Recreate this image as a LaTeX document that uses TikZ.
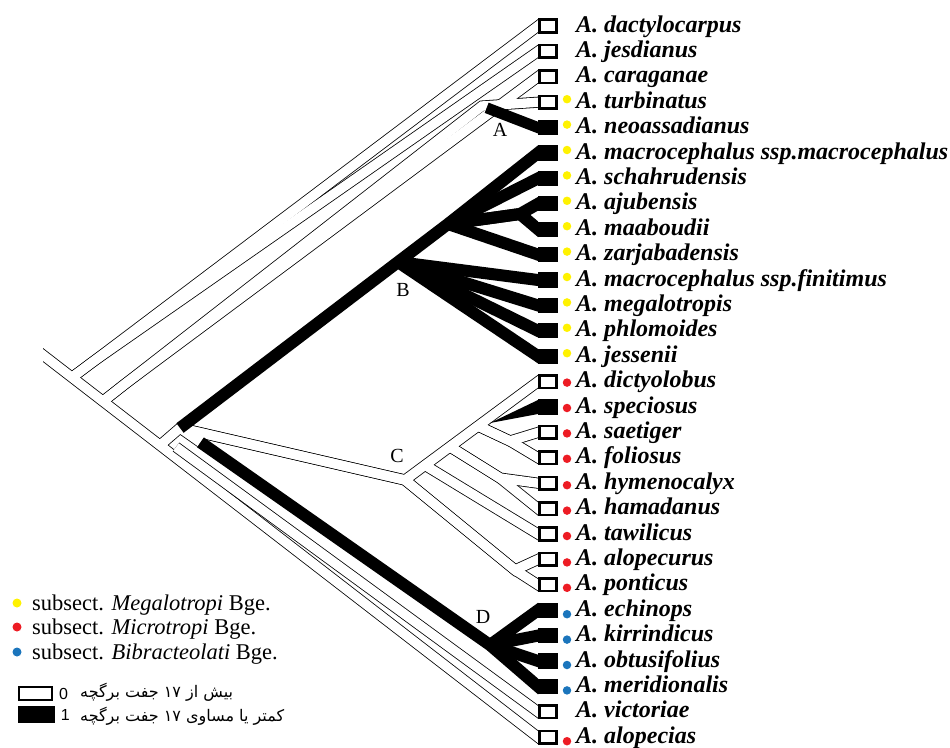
\documentclass[tikz,border=0pt]{standalone}
\usepackage{fontspec}
\setmainfont{Liberation Serif}
\newfontfamily\farsifont[Script=Arabic]{DejaVu Sans}
\newfontfamily\digitfont{Liberation Sans}
\TeXXeTstate=1
\usepackage{xcolor}
\definecolor{megal}{HTML}{FFF200}
\definecolor{micro}{HTML}{ED1C24}
\definecolor{bibra}{HTML}{1B75BC}
\usetikzlibrary{positioning,calc}
\tikzset{
  wout/.style={black, line width=11pt, line cap=butt, line join=miter},
  win/.style={white, line width=9.4pt, line cap=butt, line join=miter},
  bband/.style={black, line width=12pt, line cap=butt, line join=miter},
  sqw/.style={draw=black, line width=2.6pt, fill=white, minimum width=17pt, minimum height=12.5pt, inner sep=0pt, anchor=west},
  sqb/.style={sqw, fill=black},
  sdot/.style={circle, inner sep=0pt, minimum size=8.5pt},
  taxon/.style={font=\fontsize{24}{24}\selectfont\bfseries\itshape, anchor=base west, inner sep=0pt},
  clade/.style={font=\fontsize{20}{20}\selectfont, inner sep=0pt},
  legtext/.style={font=\fontsize{22.5}{22.5}\selectfont, anchor=base west, inner sep=0pt},
  legfa/.style={font=\farsifont\fontsize{16}{16}\selectfont, anchor=west, inner sep=0pt},
  legnum/.style={font=\digitfont\fontsize{16}{16}\selectfont, inner sep=0pt},
}
% white branches, drawn twice: outline pass, then inside pass
\newcommand\whitebranches[1]{%
  \draw[#1] (S0) -- (x29);
  \draw[#1] (R) -- (P12) -- (x1);
  \draw[#1] (R) -- (P12) -- (x2);
  \draw[#1] (N1) -- (P3A) -- (x3);
  \draw[#1] (N1) -- (P3A) -- (A) -- (x4);
  \draw[#1] (N2) -- (X) -- (Cn) -- (x15);
  \draw[#1] (X) -- (Cn) -- (N2223) -- (x22);
  \draw[#1] (Cn) -- (N2223) -- (x23);
  \draw[#1] (c1) -- (x21);
  \draw[#1] (c2) -- (N1920) -- (x19);
  \draw[#1] (c2) -- (N1920) -- (x20);
  \draw[#1] (c3) -- (Q2) -- (x17);
  \draw[#1] (c3) -- (Q2) -- (x18);
  \draw[#1] (X) -- (D0);
}
\begin{document}
\begin{tikzpicture}[x=1pt, y=-1pt]
  \useasboundingbox (0,0) rectangle (950,747);
  % tips
  \foreach \i in {1,...,29}
    \coordinate (e\i) at (538,{26+25.4*(\i-1)});
  % inner nodes
  \coordinate (S) at (43,355);
  \coordinate (R) at (72,377.4);
  \coordinate (N1) at (103,401.3);
  \coordinate (N2) at (160,445.3);
  \coordinate (P12) at (94,361);
  \coordinate (P3A) at (125,384);
  \coordinate (A) at (482,106);
  \coordinate (X) at (180,428);
  \coordinate (Bn) at (398,262);
  \coordinate (Un) at (448,224);
  \coordinate (N89) at (520,214);
  \coordinate (Cn) at (405,480);
  \coordinate (c1) at ($(Cn)!0.15!(e15)$);
  \coordinate (c2) at ($(Cn)!0.338!(e15)$);
  \coordinate (c3) at ($(Cn)!0.549!(e15)$);
  \coordinate (Q2) at (510,441);
  \coordinate (N1920) at (500,478);
  \coordinate (N2223) at (515,570);
  \coordinate (Dn) at (490,645);
  \coordinate (D0) at ($(X)!25pt!(Dn)$);
  \coordinate (A5) at ($(A)!5pt!(e5)$);
  \coordinate (T28s) at (176,447);
  \coordinate (wedge) at (490,423);
  \coordinate (S0) at ($(S)!-10pt!(e29)$);
  \foreach \t/\p in {1/P12,2/P12,3/P3A,4/A,5/A,6/Un,7/Un,8/N89,9/N89,10/Un,
      11/Bn,12/Bn,13/Bn,14/Bn,15/Cn,17/Q2,18/Q2,19/N1920,20/N1920,21/c1,
      22/N2223,23/N2223,24/Dn,25/Dn,26/Dn,27/Dn,28/T28s,29/S}
    \coordinate (x\t) at ($(e\t)!-12pt!(\p)$);

  \begin{scope}
    \clip (43,0) rectangle (538,747);
    \whitebranches{wout}
    \whitebranches{win}
    % state 1 branches
    \draw[bband] (X) -- (Bn) -- (Un) -- (x6);
    \foreach \t in {11,12,13,14}
      \draw[bband] (Bn) -- (x\t);
    \draw[bband] (Un) -- (x7);
    \draw[bband] (Un) -- (N89) -- (x8);
    \draw[bband] (Un) -- (N89) -- (x9);
    \draw[bband] (Un) -- (x10);
    \draw[bband, line width=11pt] (A5) -- (x5);
    \draw[bband] (D0) -- (Dn) -- (x27);
    \foreach \t in {24,25,26}
      \draw[bband] (Dn) -- (x\t);
    \fill (wedge) -- ($(e16)+(0,-7)$) -- ($(e16)+(0,7)$) -- cycle;
    % victoriae
    \draw[wout] (T28s) -- (x28);
    \draw[win] (T28s) -- (x28);
  \end{scope}

  % squares, dots and names
  \foreach \i/\nm/\st/\dc/\dy in {
      1/dactylocarpus/w/none/0, 2/jesdianus/w/none/0, 3/caraganae/w/none/0,
      4/turbinatus/w/megal/-3, 5/neoassadianus/b/megal/-3,
      6/macrocephalus ssp.macrocephalus/b/megal/-3, 7/schahrudensis/b/megal/-3,
      8/ajubensis/b/megal/-3, 9/maaboudii/b/megal/-3, 10/zarjabadensis/b/megal/-3,
      11/macrocephalus ssp.finitimus/b/megal/-3, 12/megalotropis/b/megal/-3,
      13/phlomoides/b/megal/-3, 14/jessenii/b/megal/-3,
      15/dictyolobus/w/micro/1, 16/speciosus/b/micro/1, 17/saetiger/w/micro/1,
      18/foliosus/w/micro/1, 19/hymenocalyx/w/micro/2, 20/hamadanus/w/micro/2,
      21/tawilicus/w/micro/2, 22/alopecurus/w/micro/3, 23/ponticus/w/micro/3,
      24/echinops/b/bibra/4, 25/kirrindicus/b/bibra/4, 26/obtusifolius/b/bibra/4,
      27/meridionalis/b/bibra/4, 28/victoriae/w/none/0, 29/alopecias/w/micro/4}
  {
    \node[sq\st] (sq\i) at (e\i) {};
    \node[sdot, fill=\dc] (dt\i) at ($(e\i)+(29,\dy)$) {};
    \node[taxon] (lab\i) at ($(e\i)+(38,6)$) {A. \nm};
  }

  % clade letters
  \node[clade] (labA) at (500,130) {A};
  \node[clade] (labB) at (403,290) {B};
  \node[clade] (labC) at (397,456) {C};
  \node[clade] (labD) at (483,617) {D};

  % legend
  \node[sdot, fill=megal, minimum size=9pt] (legm) at (17,603) {};
  \node[sdot, fill=micro, minimum size=9pt] (legr) at (17,627) {};
  \node[sdot, fill=bibra, minimum size=9pt] (legb) at (17,652) {};
  \node[legtext] (legmt) at (32,610) {subsect. \textit{Megalotropi} Bge.};
  \node[legtext] (legrt) at (32,634) {subsect. \textit{Microtropi} Bge.};
  \node[legtext] (legbt) at (32,659) {subsect. \textit{Bibracteolati} Bge.};
  \node[sqw, minimum width=33pt, minimum height=13pt, line width=2pt] (leg0) at (18,693.5) {};
  \node[sqb, minimum width=34pt, minimum height=15pt] (leg1) at (18,714.5) {};
  \node[legnum, right=6pt of leg0] (n0) {0};
  \node[legnum, right=6pt of leg1] (n1) {1};
  \node[legfa] (fa0) at (80,692) {\beginR بیش از ۱۷ جفت برگچه\endR};
  \node[legfa] (fa1) at (80,716) {\beginR کمتر یا مساوی ۱۷ جفت برگچه\endR};
\end{tikzpicture}
\end{document}
